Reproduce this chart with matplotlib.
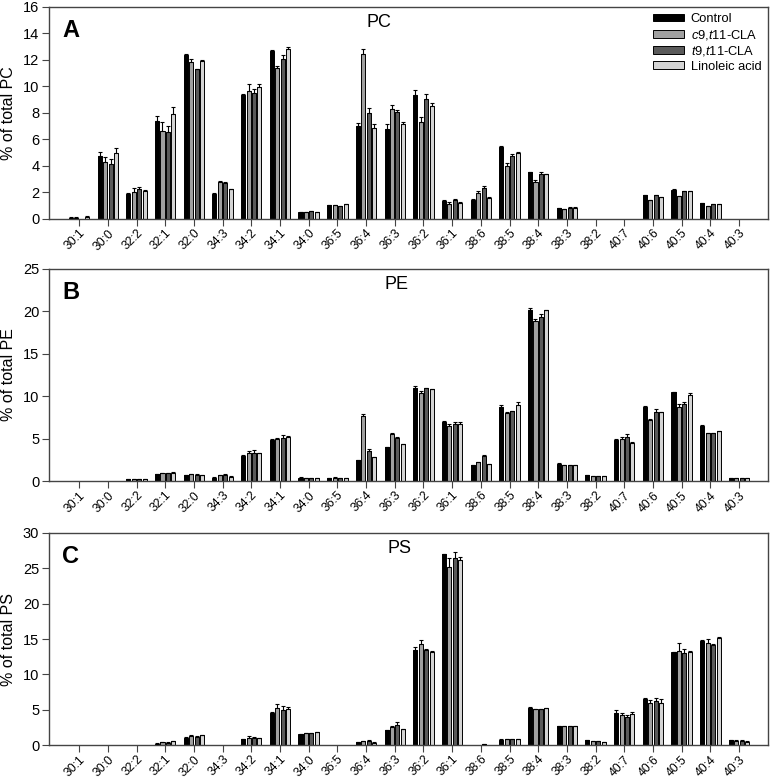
import matplotlib
matplotlib.use("Agg")
import matplotlib.pyplot as plt
import numpy as np

plt.rcParams['font.family'] = ['Liberation Sans', 'DejaVu Sans']
plt.rcParams['mathtext.fontset'] = 'custom'
plt.rcParams['mathtext.it'] = 'Liberation Sans:italic'
plt.rcParams['mathtext.rm'] = 'Liberation Sans'

# especies moleculares
species = ['30:1', '30:0', '32:2', '32:1', '32:0', '34:3', '34:2', '34:1', '34:0', '36:5',
           '36:4', '36:3', '36:2', '36:1', '38:6', '38:5', '38:4', '38:3', '38:2', '40:7',
           '40:6', '40:5', '40:4', '40:3']

groups = ['Control', r'$\mathit{c9{,}t11}$-CLA', r'$\mathit{t9{,}t11}$-CLA', 'Linoleic acid']
colors = ['#000000', '#a0a0a0', '#5a5a5a', '#d4d4d4']

# PC
pc_control = [0.1, 4.75, 1.86, 7.4, 12.36, 1.9, 9.35, 12.69, 0.5, 1.05, 7.0, 6.76, 9.32, 1.36, 1.46, 5.43, 3.52, 0.83, 0, 0, 1.78, 2.21, 1.18, 0]
pc_control_err = [0.05, 0.33, 0.08, 0.38, 0.05, 0.03, 0.05, 0.05, 0.03, 0.03, 0.25, 0.43, 0.4, 0.05, 0.05, 0.1, 0.05, 0.03, 0, 0, 0.03, 0.03, 0.03, 0]
pc_c9 = [0.1, 4.27, 2.0, 6.65, 11.83, 2.76, 9.67, 11.36, 0.5, 1.05, 12.4, 8.27, 7.34, 1.13, 1.98, 4.02, 2.79, 0.73, 0, 0, 1.43, 1.73, 0.98, 0]
pc_c9_err = [0.05, 0.38, 0.3, 0.68, 0.25, 0.1, 0.48, 0.15, 0.03, 0.03, 0.4, 0.33, 0.35, 0.12, 0.1, 0.18, 0.13, 0.03, 0, 0, 0.03, 0.03, 0.03, 0]
pc_t9 = [0, 4.12, 2.28, 6.53, 11.28, 2.7, 9.47, 12.08, 0.58, 0.98, 8.0, 8.09, 9.05, 1.43, 2.31, 4.75, 3.39, 0.83, 0, 0, 1.78, 2.09, 1.1, 0]
pc_t9_err = [0, 0.38, 0.15, 0.5, 0.03, 0.05, 0.35, 0.3, 0.03, 0.03, 0.4, 0.1, 0.4, 0.05, 0.2, 0.13, 0.15, 0.05, 0, 0, 0.03, 0.03, 0.03, 0]
pc_lin = [0.15, 5.0, 2.1, 7.9, 11.9, 2.23, 9.92, 12.79, 0.52, 1.12, 6.87, 7.14, 8.49, 1.2, 1.58, 4.97, 3.37, 0.83, 0, 0, 1.63, 2.09, 1.1, 0]
pc_lin_err = [0.1, 0.35, 0.05, 0.55, 0.08, 0.03, 0.23, 0.18, 0.03, 0.03, 0.3, 0.15, 0.28, 0.05, 0.05, 0.08, 0.05, 0.08, 0, 0, 0.03, 0.03, 0.03, 0]

# PE
pe_control = [0, 0, 0.2, 0.83, 0.67, 0.4, 2.99, 4.83, 0.4, 0.31, 2.48, 4.0, 10.93, 7.0, 1.89, 8.77, 20.2, 2.04, 0.67, 4.87, 8.69, 10.46, 6.49, 0.3]
pe_control_err = [0, 0, 0.03, 0.05, 0.05, 0.03, 0.08, 0.12, 0.03, 0.03, 0.05, 0.05, 0.3, 0.08, 0.05, 0.2, 0.24, 0.05, 0.03, 0.08, 0.12, 0.08, 0.12, 0.03]
pe_c9 = [0, 0, 0.25, 0.94, 0.79, 0.67, 3.26, 4.91, 0.35, 0.39, 7.7, 5.58, 10.42, 6.45, 2.2, 7.98, 18.87, 1.85, 0.59, 4.95, 7.19, 8.69, 5.62, 0.3]
pe_c9_err = [0, 0, 0.03, 0.05, 0.05, 0.05, 0.24, 0.2, 0.03, 0.03, 0.2, 0.05, 0.24, 0.24, 0.05, 0.15, 0.2, 0.05, 0.03, 0.2, 0.12, 0.35, 0.05, 0.03]
pe_t9 = [0, 0, 0.25, 0.9, 0.75, 0.75, 3.3, 5.11, 0.38, 0.31, 3.58, 5.07, 10.93, 6.72, 2.99, 8.22, 19.34, 1.89, 0.59, 5.19, 8.18, 9.04, 5.62, 0.3]
pe_t9_err = [0, 0, 0.03, 0.05, 0.05, 0.05, 0.3, 0.27, 0.03, 0.03, 0.15, 0.1, 0.05, 0.28, 0.05, 0.05, 0.3, 0.05, 0.03, 0.35, 0.28, 0.24, 0.05, 0.03]
pe_lin = [0, 0, 0.2, 0.98, 0.71, 0.5, 3.26, 5.23, 0.38, 0.35, 2.83, 4.36, 10.85, 6.68, 2.0, 8.96, 20.13, 1.89, 0.55, 4.52, 8.1, 10.18, 5.9, 0.35]
pe_lin_err = [0, 0, 0.03, 0.05, 0.05, 0.05, 0.05, 0.08, 0.03, 0.03, 0.05, 0.05, 0.05, 0.24, 0.05, 0.35, 0.08, 0.05, 0.03, 0.05, 0.08, 0.24, 0.05, 0.05]

# PS
ps_control = [0, 0, 0, 0.19, 1.04, 0, 0.8, 4.58, 1.56, 0, 0.38, 2.13, 13.46, 27.0, 0, 0.76, 5.29, 2.69, 0.66, 4.53, 6.52, 13.13, 14.74, 0.71]
ps_control_err = [0, 0, 0, 0.03, 0.05, 0, 0.05, 0.05, 0.05, 0, 0.05, 0.05, 0.43, 0.05, 0, 0.05, 0.05, 0.03, 0.03, 0.43, 0.1, 0.1, 0.1, 0.03]
ps_c9 = [0, 0, 0, 0.38, 1.32, 0, 1.04, 5.29, 1.65, 0, 0.52, 2.6, 14.27, 25.22, 0, 0.85, 5.05, 2.69, 0.57, 4.3, 6.0, 13.27, 14.4, 0.57]
ps_c9_err = [0, 0, 0, 0.03, 0.05, 0, 0.18, 0.47, 0.05, 0, 0.05, 0.05, 0.52, 1.2, 0, 0.05, 0.05, 0.03, 0.03, 0.2, 0.38, 1.23, 0.57, 0.1]
ps_t9 = [0, 0, 0, 0.33, 1.18, 0, 1.04, 5.0, 1.65, 0, 0.61, 2.83, 13.51, 26.5, 0.15, 0.85, 5.05, 2.69, 0.57, 4.02, 6.28, 13.04, 14.22, 0.61]
ps_t9_err = [0, 0, 0, 0.03, 0.05, 0, 0.1, 0.5, 0.05, 0, 0.05, 0.38, 0.1, 0.75, 0.03, 0.05, 0.05, 0.03, 0.03, 0.28, 0.43, 0.6, 0.1, 0.1]
ps_lin = [0, 0, 0, 0.52, 1.37, 0, 0.99, 5.05, 1.84, 0, 0.33, 2.22, 13.18, 26.2, 0, 0.85, 5.2, 2.69, 0.47, 4.44, 6.0, 13.23, 15.1, 0.47]
ps_lin_err = [0, 0, 0, 0.05, 0.05, 0, 0.05, 0.33, 0.05, 0, 0.05, 0.05, 0.08, 0.47, 0, 0.05, 0.08, 0.03, 0.03, 0.24, 0.52, 0.08, 0.14, 0.05]


def panel(ax, series, errs, ymax, ystep, letter, name, title_x):
    x = np.arange(len(species))
    step = 0.19
    for i, (vals, err) in enumerate(zip(series, errs)):
        pos = x + (i - 1.5) * step
        vals = np.array(vals)
        err = np.array(err)
        ax.bar(pos, vals, width=0.14, color=colors[i], edgecolor='black', linewidth=0.7,
               label=groups[i], zorder=2)
        m = err > 0
        ax.errorbar(pos[m], vals[m], yerr=[np.zeros(m.sum()), err[m]], fmt='none',
                    ecolor='black', elinewidth=0.8, capsize=1.6, capthick=0.8, zorder=3)
    ax.set_xlim(-1.05, 24.0)
    ax.set_ylim(0, ymax)
    ax.set_yticks(np.arange(0, ymax + 0.1, ystep))
    ax.set_xticks(x)
    ax.set_xticklabels(species, rotation=45, ha='right', va='top', rotation_mode='anchor',
                       fontsize=8.8)
    ax.tick_params(axis='y', labelsize=10.5, length=5, pad=2, color='#444444')
    ax.tick_params(axis='x', length=5, pad=1, color='#444444')
    for s in ax.spines.values():
        s.set_color('#444444')
        s.set_linewidth(1.0)
    ax.set_ylabel('% of total ' + name, fontsize=11.5)
    ax.yaxis.set_label_coords(-0.046, 0.5)
    ax.text(0.018, 0.89, letter, transform=ax.transAxes, fontsize=17, fontweight='bold',
            va='center', ha='left')
    ax.text(title_x, 0.925, name, transform=ax.transAxes, fontsize=13, va='center', ha='center')


fig = plt.figure(figsize=(7.72, 7.79), dpi=100)
ax1 = fig.add_axes([0.0635, 0.7189, 0.931, 0.2725])
ax2 = fig.add_axes([0.0635, 0.3825, 0.931, 0.2722])
ax3 = fig.add_axes([0.0635, 0.0436, 0.931, 0.2722])

panel(ax1, [pc_control, pc_c9, pc_t9, pc_lin], [pc_control_err, pc_c9_err, pc_t9_err, pc_lin_err],
      16, 2, 'A', 'PC', 0.459)
panel(ax2, [pe_control, pe_c9, pe_t9, pe_lin], [pe_control_err, pe_c9_err, pe_t9_err, pe_lin_err],
      25, 5, 'B', 'PE', 0.484)
panel(ax3, [ps_control, ps_c9, ps_t9, ps_lin], [ps_control_err, ps_c9_err, ps_t9_err, ps_lin_err],
      30, 5, 'C', 'PS', 0.487)

ax1.legend(loc='upper right', frameon=False, fontsize=9.3, handlelength=2.4, handleheight=0.55,
           labelspacing=0.2, handletextpad=0.55, borderaxespad=0.1, bbox_to_anchor=(1.0, 1.0))

plt.savefig('out.png', dpi=100)
